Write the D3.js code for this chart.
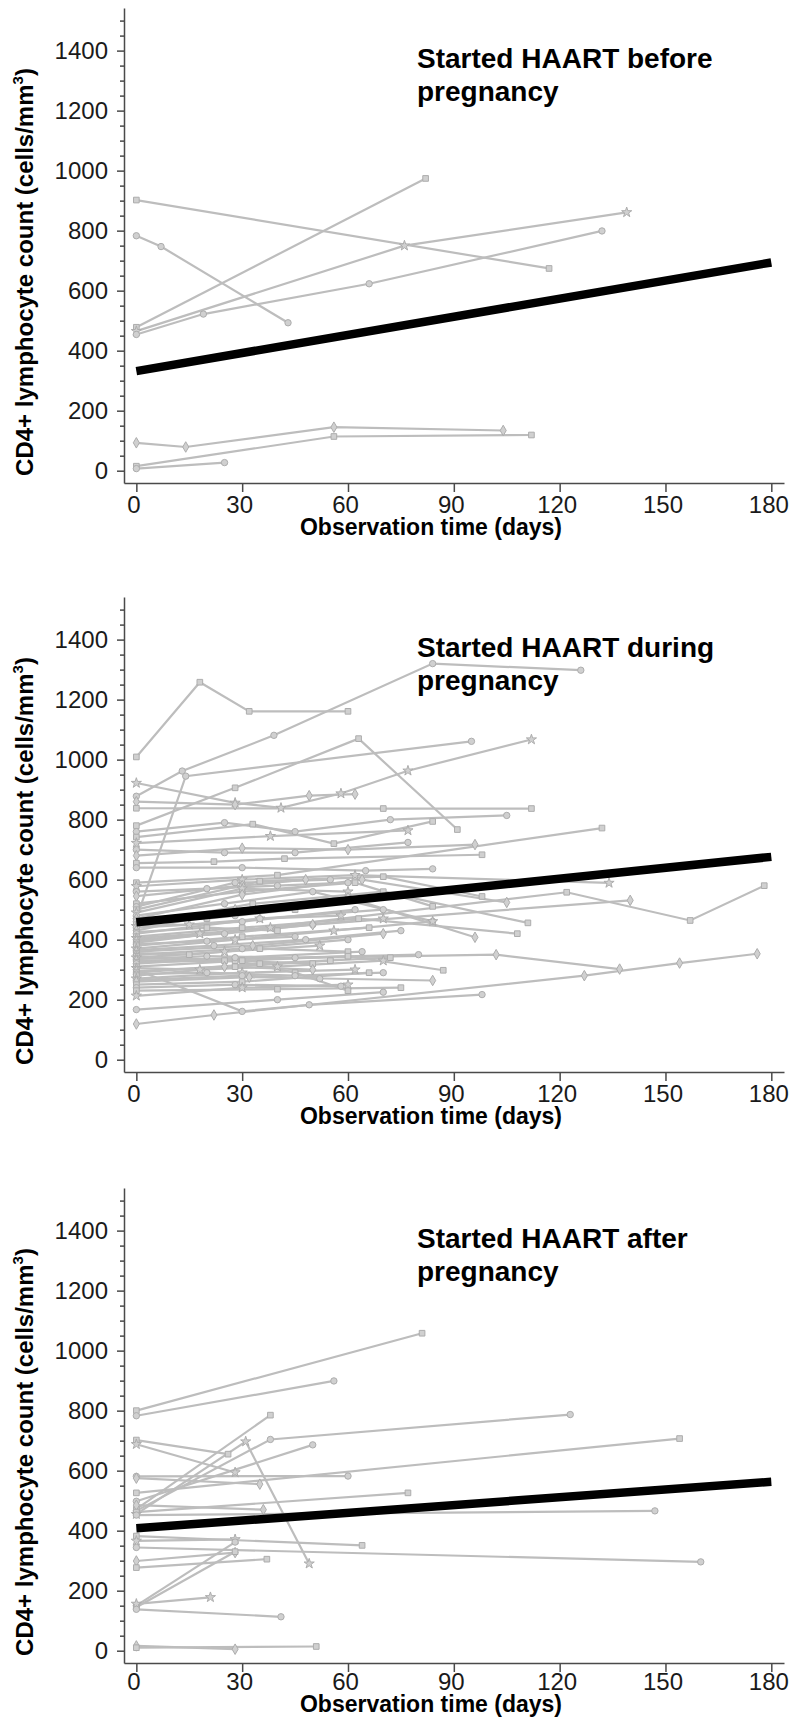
<!DOCTYPE html>
<html>
<head>
<meta charset="utf-8">
<script src="https://cdn.jsdelivr.net/npm/d3@7"></script>
<style>
  body { margin: 0; background: #fff; }
  svg text { font-family: "Liberation Sans", Arial, sans-serif; }
</style>
</head>
<body>
<div id="chart"></div>
<script>
// ---- data: [day, CD4 count] per woman ----
const xTicks = [0, 30, 60, 90, 120, 150, 180];
const yTicks = [0, 200, 400, 600, 800, 1000, 1200, 1400];
const xTitle = 'Observation time (days)';
const yTitle = 'CD4+ lymphocyte count (cells/mm';

const beforeTitle = ['Started HAART before', 'pregnancy'];
const duringTitle = ['Started HAART during', 'pregnancy'];
const afterTitle = ['Started HAART after', 'pregnancy'];

const beforeTrend = [[0, 332], [180, 694]];
const duringTrend = [[0, 458], [180, 676]];
const afterTrend = [[0, 408], [180, 563]];

const beforeSubjects = [
    [[0, 902], [117, 674]],
    [[0, 783], [7, 747], [43, 493]],
    [[0, 478], [82, 974]],
    [[0, 465], [76, 750], [139, 861]],
    [[0, 454], [19, 522], [66, 623], [132, 799]],
    [[0, 93], [14, 79], [56, 145], [104, 134]],
    [[0, 15], [56, 114], [112, 119]],
    [[0, 7], [25, 27]]
];

const duringSubjects = [
    [[0, 1009], [18, 1258], [32, 1161], [60, 1161]],
    [[0, 878], [13, 962], [39, 1081], [84, 1320], [126, 1298]],
    [[0, 780], [28, 906], [63, 1070], [91, 767]],
    [[0, 922], [28, 856], [41, 839], [58, 887], [77, 963], [112, 1067]],
    [[0, 470], [14, 945], [95, 1061]],
    [[0, 860], [28, 850], [49, 880], [62, 885]],
    [[0, 838], [70, 837], [112, 837]],
    [[0, 760], [25, 790], [45, 760], [72, 800], [105, 814]],
    [[0, 742], [33, 785], [56, 720], [84, 794]],
    [[0, 722], [38, 745], [77, 764]],
    [[0, 700], [25, 690], [45, 690], [77, 724]],
    [[0, 680], [30, 705], [60, 700], [96, 717]],
    [[0, 655], [22, 660], [42, 670], [98, 683]],
    [[0, 640], [30, 640], [65, 630], [84, 636]],
    [[0, 590], [40, 615], [132, 772]],
    [[0, 578], [30, 600], [62, 615], [134, 589]],
    [[0, 560], [20, 570], [40, 580], [60, 590]],
    [[0, 545], [30, 580], [48, 600]],
    [[0, 520], [30, 560], [62, 590], [84, 511]],
    [[0, 510], [28, 590], [55, 600]],
    [[0, 500], [35, 595], [70, 610], [98, 544]],
    [[0, 490], [30, 570], [60, 560]],
    [[0, 480], [25, 520], [50, 560], [84, 461]],
    [[0, 470], [30, 550], [64, 600], [105, 524]],
    [[0, 465], [20, 470], [45, 500]],
    [[0, 460], [28, 480], [56, 530]],
    [[0, 450], [33, 520], [70, 560], [111, 456]],
    [[0, 445], [15, 450], [35, 470], [58, 480]],
    [[0, 440], [30, 460], [62, 500]],
    [[0, 430], [28, 500], [60, 540], [96, 408]],
    [[0, 425], [20, 440], [40, 430]],
    [[0, 420], [35, 470], [70, 500]],
    [[0, 410], [30, 440], [63, 470], [108, 420]],
    [[0, 405], [18, 420], [38, 440], [70, 470]],
    [[0, 400], [25, 420], [50, 450]],
    [[0, 395], [50, 450], [140, 531]],
    [[0, 390], [122, 558], [157, 464], [178, 580]],
    [[0, 385], [20, 395], [45, 410]],
    [[0, 380], [30, 410], [66, 440]],
    [[0, 370], [28, 400], [56, 430], [84, 461]],
    [[0, 365], [22, 380], [48, 400], [75, 430]],
    [[0, 360], [33, 380], [70, 420]],
    [[0, 355], [15, 350], [35, 370], [60, 360]],
    [[0, 350], [30, 370], [60, 400]],
    [[0, 345], [28, 330], [45, 290], [60, 230]],
    [[0, 340], [25, 360], [52, 380]],
    [[0, 335], [20, 345], [45, 340], [80, 350]],
    [[0, 330], [102, 350], [137, 302]],
    [[0, 325], [25, 330], [50, 320]],
    [[0, 320], [28, 340], [64, 360]],
    [[0, 310], [30, 330], [60, 345], [87, 298]],
    [[0, 305], [18, 300], [40, 310], [70, 330]],
    [[0, 300], [30, 161], [49, 183], [98, 217]],
    [[0, 295], [25, 310], [50, 300]],
    [[0, 290], [35, 320], [72, 340]],
    [[0, 285], [20, 290], [45, 280], [70, 290]],
    [[0, 280], [28, 310], [55, 330]],
    [[0, 270], [30, 290], [62, 300]],
    [[0, 265], [30, 280], [52, 270]],
    [[0, 260], [32, 275], [84, 264]],
    [[0, 250], [30, 260], [66, 290]],
    [[0, 240], [28, 250], [58, 245]],
    [[0, 230], [40, 235], [75, 240]],
    [[0, 213], [30, 240], [60, 250]],
    [[0, 167], [40, 200], [70, 225]],
    [[0, 119], [22, 149], [127, 280], [154, 322], [176, 353]]
];

const afterSubjects = [
    [[0, 800], [81, 1058]],
    [[0, 783], [56, 899]],
    [[0, 702], [26, 655]],
    [[0, 688], [28, 594]],
    [[0, 581], [60, 582]],
    [[0, 575], [35, 555]],
    [[0, 526], [154, 707]],
    [[0, 466], [38, 704], [123, 787]],
    [[0, 472], [38, 785]],
    [[0, 455], [31, 697], [49, 290]],
    [[0, 498], [50, 686]],
    [[0, 485], [36, 470]],
    [[0, 462], [77, 526]],
    [[0, 452], [147, 466]],
    [[0, 382], [64, 351]],
    [[0, 366], [28, 371]],
    [[0, 344], [160, 296]],
    [[0, 299], [28, 327]],
    [[0, 277], [37, 305]],
    [[0, 150], [28, 362]],
    [[0, 145], [28, 330]],
    [[0, 156], [21, 178]],
    [[0, 138], [41, 113]],
    [[0, 16], [28, 5]],
    [[0, 10], [51, 14]]
];

// ---- layout ----
const W = 792, H = 1719;
const panels = [
    { title: beforeTitle, subjects: beforeSubjects, trend: beforeTrend, oy: 0, xTitleY: 535, pad: 4 },
    { title: duringTitle, subjects: duringSubjects, trend: duringTrend, oy: 589, xTitleY: 535, pad: 4 },
    { title: afterTitle, subjects: afterSubjects, trend: afterTrend, oy: 1180, xTitleY: 532, pad: 1 }
];
const axisColor = '#4a4a4a';
const greyLine = '#bdbdbd';
const symbolTypes = [d3.symbolSquare, d3.symbolCircle, d3.symbolSquare, d3.symbolStar, d3.symbolCircle, d3.symbolDiamond];

const svg = d3.select('#chart').append('svg')
    .attr('width', W)
    .attr('height', H);

svg.append('rect').attr('width', W).attr('height', H).attr('fill', '#fff');

const x = d3.scaleLinear().domain([-3.5, 183.6]).range([124, 784]);
const y = d3.scaleLinear().domain([-41, 1542]).range([483, 8]);

const line = d3.line().x(d => x(d[0])).y(d => y(d[1]));

panels.forEach(p => {
    const g = svg.append('g').attr('transform', `translate(0,${p.oy})`);

    // individual trajectories
    g.selectAll('.subject')
        .data(p.subjects)
        .enter().append('path')
        .attr('class', 'subject')
        .attr('d', line)
        .attr('fill', 'none')
        .attr('stroke', greyLine)
        .attr('stroke-width', 2.2);

    // markers at each visit
    p.subjects.forEach((s, i) => {
        const sym = d3.symbol().type(symbolTypes[i % symbolTypes.length]).size(32);
        g.selectAll(null)
            .data(s)
            .enter().append('path')
            .attr('d', sym)
            .attr('transform', d => `translate(${x(d[0])},${y(d[1])})`)
            .attr('fill', '#d0d0d0')
            .attr('stroke', '#adadad')
            .attr('stroke-width', 1);
    });

    // fitted trend
    g.append('path')
        .datum(p.trend)
        .attr('d', line)
        .attr('fill', 'none')
        .attr('stroke', '#000')
        .attr('stroke-width', 8.5);

    // y axis with minor ticks
    const yAxis = g.append('g')
        .attr('transform', 'translate(124,0)')
        .call(d3.axisLeft(y).tickValues(yTicks).tickFormat(d3.format('d'))
            .tickSize(7).tickSizeOuter(0).tickPadding(9));
    g.append('g')
        .attr('transform', 'translate(124,0)')
        .call(d3.axisLeft(y).tickValues(d3.range(50, 1550, 50).filter(v => v % 200 !== 0))
            .tickSize(4).tickSizeOuter(0).tickFormat(''))
        .select('.domain').remove();

    // x axis
    const xAxis = g.append('g')
        .attr('transform', 'translate(0,483)')
        .call(d3.axisBottom(x).tickValues(xTicks).tickFormat(d3.format('d'))
            .tickSize(9).tickSizeOuter(0).tickPadding(p.pad));
    xAxis.selectAll('.tick text').attr('dx', -3);

    [yAxis, xAxis].forEach(a => {
        a.selectAll('path, line').attr('stroke', axisColor).attr('stroke-width', 1.5);
        a.selectAll('text')
            .attr('fill', '#1a1a1a')
            .style('font-family', '"Liberation Sans", Arial, sans-serif')
            .style('font-size', '24px');
    });
    g.selectAll('.tick line').attr('stroke', axisColor).attr('stroke-width', 1.5);

    // axis titles
    g.append('text')
        .attr('x', 431)
        .attr('y', p.xTitleY)
        .attr('text-anchor', 'middle')
        .attr('font-weight', 'bold')
        .attr('font-size', 23)
        .attr('fill', '#000')
        .text(xTitle);

    const yt = g.append('text')
        .attr('transform', 'translate(33,272) rotate(-90)')
        .attr('text-anchor', 'middle')
        .attr('font-weight', 'bold')
        .attr('font-size', 24)
        .attr('fill', '#000');
    yt.append('tspan').text(yTitle);
    yt.append('tspan').attr('dy', -10).attr('font-size', 15).text('3');
    yt.append('tspan').attr('dy', 10).text(')');

    // panel title
    g.selectAll('.panel-title')
        .data(p.title)
        .enter().append('text')
        .attr('class', 'panel-title')
        .attr('x', 417)
        .attr('y', (d, i) => 67.5 + i * 33)
        .attr('font-weight', 'bold')
        .attr('font-size', 28)
        .attr('fill', '#000')
        .text(d => d);
});
</script>
</body>
</html>
